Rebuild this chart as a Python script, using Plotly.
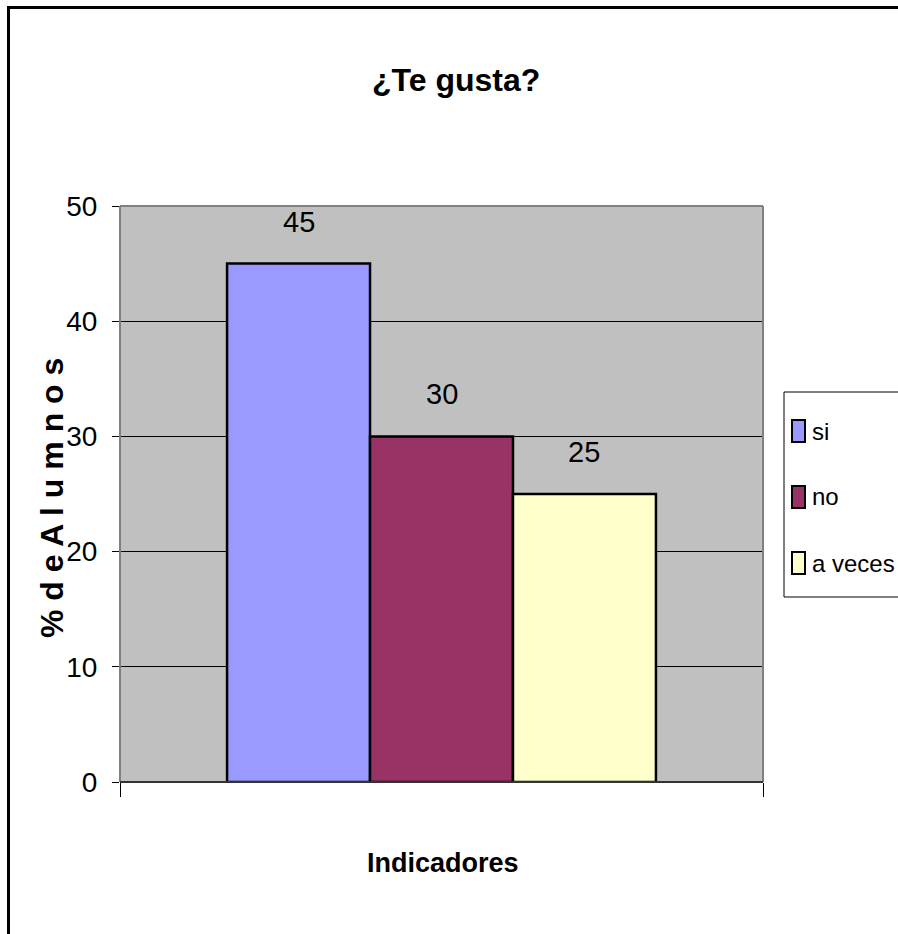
import plotly.graph_objects as go

# ---- data ----
categories = ["Indicadores"]
series_names = ["si", "no", "a veces"]
series_values = [45, 30, 25]
series_colors = ["#9999FF", "#993366", "#FFFFCC"]
y_ticks = [0, 10, 20, 30, 40, 50]

title_text = "¿Te gusta?"
x_title = "Indicadores"
y_title = "% d e A l u m n o s"

W, H = 898, 934
L, R, T, B = 120, 763, 206, 782  # plot area in px
BARGAP = 0.333

FONT = "Liberation Sans Narrow, Arial Narrow, Liberation Sans, Arial, sans-serif"


def px(x):
    return (x - L) / (R - L)


def py(y):
    return (B - y) / (B - T)


fig = go.Figure()
for name, val, col in zip(series_names, series_values, series_colors):
    fig.add_trace(go.Bar(
        x=categories, y=[val], name=name,
        marker=dict(color=col, line=dict(color="black", width=2.5)),
        cliponaxis=False, showlegend=False,
    ))

shapes = []
annotations = []

# data labels above bars
n = len(series_values)
bar_w_px = (R - L) * (1 - BARGAP) / n
for i, val in enumerate(series_values):
    annotations.append(dict(text=str(val), x=0, y=val, xref="x", yref="y",
                            xshift=(i - (n - 1) / 2) * bar_w_px, yshift=42,
                            showarrow=False, xanchor="center", yanchor="middle",
                            font=dict(family=FONT, size=29, color="black")))

# outer chart border (extends past right/bottom edge)
shapes.append(dict(type="rect", xref="paper", yref="paper",
                   x0=px(8.5), x1=px(910), y0=py(7.5), y1=py(950),
                   line=dict(color="black", width=3), layer="below"))
# plot area border lines
shapes.append(dict(type="line", xref="paper", yref="paper", x0=0, x1=1, y0=1, y1=1,
                   line=dict(color="#808080", width=2), layer="above"))
shapes.append(dict(type="line", xref="paper", yref="paper", x0=0, x1=0, y0=0, y1=1,
                   line=dict(color="#808080", width=2), layer="above"))
shapes.append(dict(type="line", xref="paper", yref="paper", x0=1, x1=1, y0=0, y1=1,
                   line=dict(color="#808080", width=2), layer="above"))
shapes.append(dict(type="line", xref="paper", yref="paper", x0=0, x1=1, y0=0, y1=0,
                   line=dict(color="#333333", width=2), layer="above"))

# legend box
shapes.append(dict(type="rect", xref="paper", yref="paper",
                   x0=px(784), x1=px(915), y0=py(392), y1=py(597),
                   line=dict(color="black", width=1), fillcolor="white"))
leg_centers = [431, 497, 563]
for name, col, cy in zip(series_names, series_colors, leg_centers):
    shapes.append(dict(type="rect", xref="paper", yref="paper",
                       x0=px(792), x1=px(805), y0=py(cy - 11), y1=py(cy + 11),
                       line=dict(color="black", width=2), fillcolor=col))
    annotations.append(dict(text=name, xref="paper", yref="paper",
                            x=px(810), y=py(cy), xanchor="left", yanchor="middle",
                            showarrow=False,
                            font=dict(family=FONT, size=24, color="black")))

# title
annotations.append(dict(text="<b>" + title_text + "</b>", xref="paper", yref="paper",
                        x=px(456), y=py(80), xanchor="center", yanchor="middle",
                        showarrow=False, font=dict(family=FONT, size=32, color="black")))
# x title
annotations.append(dict(text="<b>" + x_title + "</b>", xref="paper", yref="paper",
                        x=px(443), y=py(863), xanchor="center", yanchor="middle",
                        showarrow=False, font=dict(family=FONT, size=27, color="black")))
# y title
annotations.append(dict(text="<b>" + y_title + "</b>", xref="paper", yref="paper",
                        x=px(52), y=py(498), xanchor="center", yanchor="middle",
                        textangle=-90, showarrow=False,
                        font=dict(family=FONT, size=32, color="black")))

fig.update_layout(
    width=W, height=H,
    margin=dict(l=L, r=W - R, t=T, b=H - B, pad=0),
    paper_bgcolor="white", plot_bgcolor="#C0C0C0",
    barmode="group", bargap=BARGAP, bargroupgap=0,
    showlegend=False,
    shapes=shapes, annotations=annotations,
    xaxis=dict(type="category", range=[-0.5, 0.5], showticklabels=False, showgrid=False,
               zeroline=False, showline=False, ticks="outside", tickson="boundaries",
               ticklen=14, tickcolor="black", tickwidth=1),
    yaxis=dict(range=[0, 50], tickvals=y_ticks, showgrid=True, gridcolor="black",
               gridwidth=1, zeroline=False, showline=False, ticks="outside", ticklen=7,
               tickcolor="black", tickwidth=1, ticklabelstandoff=9,
               tickfont=dict(family=FONT, size=28, color="black")),
)

fig.write_html("out.html", config={"displayModeBar": False},
               post_script="document.body.style.margin='0';")
